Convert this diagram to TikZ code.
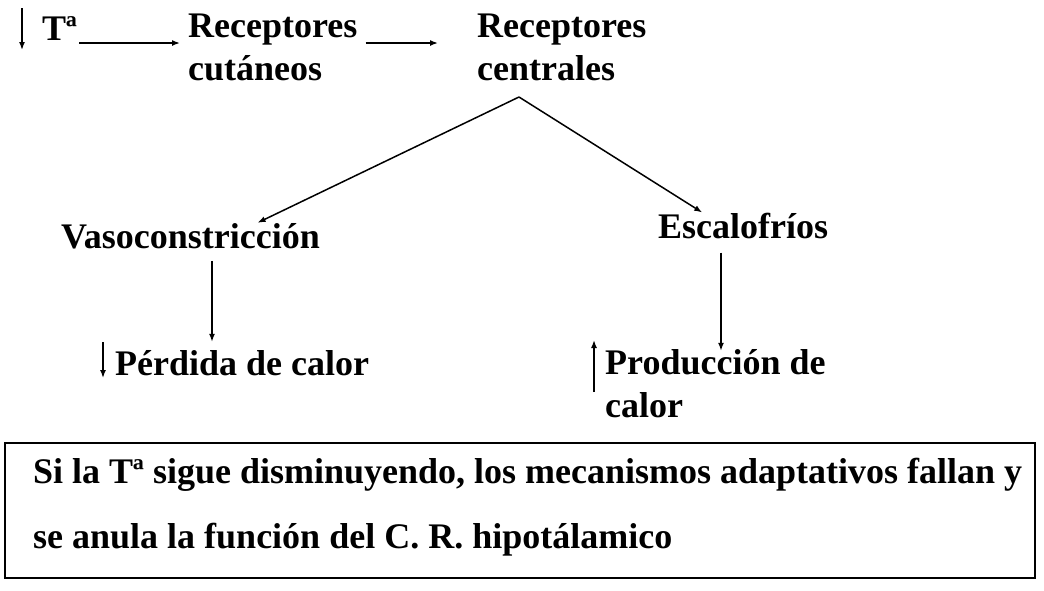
\documentclass[tikz,border=0pt]{standalone}
\usepackage{fontspec}
\setmainfont{Liberation Serif}
\usepackage{tikz}
\usetikzlibrary{arrows.meta}

\begin{document}
\begin{tikzpicture}[x=1pt,y=1pt]
    \tikzset{concept/.style = {inner sep=0pt,anchor=base west,align=left,font=\fontsize{36}{43}\selectfont\bfseries}}
    \tikzset{edge/.style = {-{Latex[length=8pt,width=6pt]},line width=1.5pt}}
    \tikzset{note/.style = {concept,font=\fontsize{36}{65}\selectfont\bfseries}}
    \tikzset{frame/.style = {draw,line width=1.5pt}}
    \useasboundingbox (0,0) rectangle (1044,-590);
    % concepts (base = last line)
    \node[concept] (ta) at (42,-40) {Tª};
    \node[concept] (cut) at (188,-80) {Receptores\\cutáneos};
    \node[concept] (cen) at (477,-80) {Receptores\\centrales};
    \node[concept] (vaso) at (61,-248) {Vasoconstricción};
    \node[concept] (esc) at (658,-238) {Escalofríos};
    \node[concept] (perd) at (115,-375) {Pérdida de calor};
    \node[concept] (prod) at (605,-417) {Producción de\\calor};
    \node[note] (msg) at (33,-548) {Si la Tª sigue disminuyendo, los mecanismos adaptativos fallan y\\se anula la función del C. R. hipotálamico};
    \draw[frame] (5,-443) rectangle (1035,-578);
    \coordinate (split) at (519,-97);
    % edges
    \draw[edge] ([xshift=-20pt,yshift=32pt]ta.base west) -- ([xshift=-20pt,yshift=-10pt]ta.base west);
    \draw[edge] ([xshift=2pt,yshift=-3pt]ta.base east) -- ([xshift=-8pt]cut.west |- 0,-43);
    \draw[edge] ([xshift=8pt]cut.east |- 0,-43) -- ([xshift=-39pt]cen.west |- 0,-43);
    \draw[edge] (split) -- ([xshift=67pt]vaso.north);
    \draw[edge] (split) -- ([xshift=-41pt]esc.north);
    \draw[edge,shorten <=12pt] ([xshift=97pt]perd.north west |- vaso.south) -- ([xshift=97pt,yshift=8pt]perd.north west);
    \draw[edge,shorten <=14pt] ([xshift=116pt]prod.north west |- esc.south) -- ([xshift=116pt,yshift=-2pt]prod.north west);
    \draw[edge] ([xshift=-12pt,yshift=33pt]perd.base west) -- ([xshift=-12pt,yshift=-3pt]perd.base west);
    \draw[edge] ([xshift=-11pt,yshift=25pt]prod.base west) -- ([xshift=-11pt,yshift=77pt]prod.base west);
\end{tikzpicture}
\end{document}
